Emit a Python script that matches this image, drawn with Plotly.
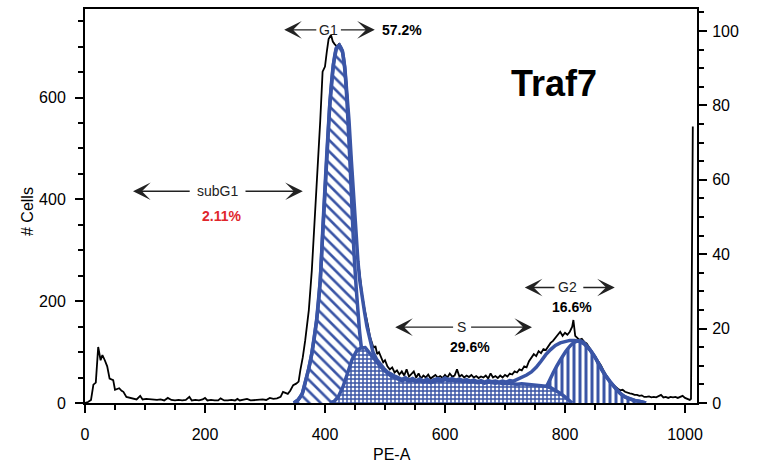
import plotly.graph_objects as go

# ---------------- data (PE-A channel, # cells) ----------------
black_pts = [(0,0),(5,2),(10,6),(14,36),(18,40),(22,110),(26,84),(29,94),(33,84),(37,72),(41,48),(47,45),(50,26),(54,28),(57,29),(61,24),(64,22),(69,12),(75,10),(80,8),
 (86,7),(92,14),(96,7),(102,8),(108,7),(114,6),(120,6),(126,7),(132,5),(138,10),(144,6),(150,5),(156,6),(162,5),(168,6),(174,12),(178,5),(184,6),(190,5),(196,7),(200,10),(204,5),(210,6),(216,5),(222,5),(226,9),(232,5),(238,5),(244,6),(250,5),(254,8),(258,5),(264,6),(270,8),(276,5),(282,6),(290,6),(296,7),(302,6),
 (308,10),(314,8),(320,9),(326,12),(330,22),(334,20),(338,18),(342,24),(347,35),(352,38),(356,42),(359,65),(363,90),(367,123),(373,182),(378,260),(383,358),(387,455),(392,553),(396,651),(400,661),(403,690),(406,715),(410,723),(413,710),(416,705),(420,700),(424,706),(428,694),(432,665),(436,625),(440,555),(444,475),(448,395),(452,325),(455,282),(458,246),(462,212),(466,184),(469,170),(472,150),(475,130),(478,118),(481,108),(484,112),(487,96),(490,100),(494,86),(497,80),(500,84),(504,72),(508,66),(512,70),(516,60),(520,64),(524,56),(528,62),(532,54),(536,66),(540,52),(544,58),(548,62),(552,50),(556,58),(560,48),(564,54),(568,50),(572,56),(576,48),(580,52),(584,55),(588,50),(592,53),(596,49),(600,55),(604,50),(608,58),(612,52),(616,54),(620,66),(624,52),(628,55),(632,50),(636,54),(640,51),(644,55),(648,50),(652,53),(656,49),(660,52),(664,50),(668,54),(672,48),(676,58),(680,50),(684,53),(688,49),(692,54),(696,50),(700,55),(704,52),(708,58),(712,56),(716,62),(720,60),(724,66),(728,64),(732,72),(736,70),(740,82),(744,88),(748,96),(752,92),(756,102),(760,98),(764,106),(768,104),(772,112),(776,118),(780,122),(784,128),(788,135),(792,140),(796,132),(800,138),(804,134),(808,140),(812,150),(814,163),(817,132),(820,128),(824,124),(828,126),(832,120),(836,117),(840,110),(844,104),(848,97),(852,90),(856,82),(860,74),(864,64),(868,56),(872,48),(876,40),(880,36),(884,31),(888,28),(892,25),(896,26),(900,22),(904,20),(908,19),(912,18),(916,16),(920,16),(924,14),(928,15),(932,12),(936,12),(940,13),(944,11),(948,12),(952,11),(956,13),(960,16),(964,11),(968,12),(972,10),(976,12),(980,11),(984,12),(988,10),(992,12),(996,14),(1000,10),(1004,8),(1008,6),(1010,8),(1013,543)]

g1_pts = [(348,0),(355,6),(362,18),(367,40),(373,68),(378,97),(386,162),(392,240),(397,358),(403,489),(408,587),(414,665),(419,697),(424,702),(429,690),(433,655),(436,605),(440,512),(444,410),(448,302),(452,226),(455,180),(458,136),(462,97),(466,68),(470,45),(475,25),(480,13),(488,5),(498,0)]

s_pts = [(408,0),(415,3),(422,12),(430,32),(438,60),(445,85),(453,103),(460,108),(467,109),(474,99),(480,88),(486,80),(492,72),(498,65),(504,58),(510,53),(516,50),(522,47),(528,44),(534,46),(540,43),(546,45),(552,42),(558,44),(564,41),(570,43),(576,40),(582,42),(588,44),(594,43),(600,46),(606,44),(612,45),(618,43),(624,44),(630,42),(636,43),(642,41),(648,42),(654,40),(660,41),(666,39),(672,41),(678,40),(684,39),(690,40),(696,38),(702,39),(708,38),(714,38),(720,37),(728,38),(736,37),(744,37),(752,36),(760,35),(768,33),(776,30),(784,25),(792,19),(800,12),(806,5),(812,0)]

g2_pts = [(742,0),(750,4),(758,12),(769,32),(781,61),(792,84),(803,104),(814,118),(822,122),(830,120),(842,104),(850,90),(858,72),(866,56),(875,42),(884,29),(892,19),(900,12),(908,8),(916,5),(925,3),(935,0)]

fit_pts = [(348,0),(355,6),(362,18),(367,40),(373,68),(378,97),(386,162),(392,240),(397,358),(403,489),(408,587),(414,665),(419,697),(424,703),(429,692),(433,660),(436,622),(440,555),(444,475),(448,395),(452,322),(455,277),(458,240),(462,205),(466,178),(470,150),(475,122),(480,100),(486,86),(492,76),(498,68),(504,61),(510,56),(516,53),(522,50),(528,46),(534,50),(540,45),(546,48),(552,44),(558,47),(564,43),(570,47),(576,42),(582,46),(588,48),(594,45),(600,49),(606,46),(612,48),(618,45),(624,47),(630,44),(636,46),(642,43),(648,45),(654,42),(660,44),(666,41),(672,44),(678,42),(684,43),(690,41),(696,43),(702,41),(708,44),(714,43),(720,46),(728,50),(736,55),(744,61),(752,70),(760,82),(768,95),(776,105),(784,113),(792,118),(800,121),(808,123),(816,123),(824,121),(832,116),(842,104),(850,90),(858,73),(866,57),(875,42),(884,29),(892,19),(900,12),(908,8),(916,5),(925,3),(935,0)]

gate_names = ["subG1", "G1", "S", "G2"]
gate_pcts = ["2.11%", "57.2%", "29.6%", "16.6%"]
sample_name = "Traf7"
x_ticks = [0, 200, 400, 600, 800, 1000]
y_ticks = [0, 200, 400, 600]
y2_ticks = [0, 20, 40, 60, 80, 100]

BLUE = "#3a55a6"
FONT = "Arial, Liberation Sans, sans-serif"

def xy(pts):
    return [p[0] for p in pts], [p[1] for p in pts]

fig = go.Figure()

bx, by = xy(black_pts)
fig.add_trace(go.Scatter(x=bx, y=by, mode="lines", line=dict(color="black", width=1.8), hoverinfo="skip"))

gx, gy = xy(g1_pts)
fig.add_trace(go.Scatter(x=gx, y=gy, mode="lines", fill="tozeroy", fillcolor="white",
                         fillpattern=dict(shape="\\", fgcolor=BLUE, bgcolor="white", fgopacity=1,
                                          size=8, solidity=0.33),
                         line=dict(color=BLUE, width=3.5, shape="spline", smoothing=0.6), hoverinfo="skip"))

g2x, g2y = xy(g2_pts)
fig.add_trace(go.Scatter(x=g2x, y=g2y, mode="lines", fill="tozeroy", fillcolor="white",
                         fillpattern=dict(shape="|", fgcolor=BLUE, bgcolor="white", fgopacity=1,
                                          size=6, solidity=0.5),
                         line=dict(color=BLUE, width=3.5, shape="spline", smoothing=0.6), hoverinfo="skip"))

sx, sy = xy(s_pts)
fig.add_trace(go.Scatter(x=sx, y=sy, mode="lines", fill="tozeroy", fillcolor="white",
                         fillpattern=dict(shape="+", fgcolor=BLUE, bgcolor="white", fgopacity=1,
                                          size=4, solidity=0.6),
                         line=dict(color=BLUE, width=3.5), hoverinfo="skip"))

fx, fy = xy(fit_pts)
fig.add_trace(go.Scatter(x=fx, y=fy, mode="lines", line=dict(color=BLUE, width=3.5), hoverinfo="skip"))

# dummy trace to realise the right axis
fig.add_trace(go.Scatter(x=[0], y=[0], yaxis="y2", mode="markers", marker=dict(opacity=0), hoverinfo="skip"))

# ---------------- gate annotations ----------------
gates = [
    dict(lx=221, ly=416, lt=80, rt=363, ltail=177, rtail=265, px=228, py=367, pcol="#e0262b"),
    dict(lx=405, ly=733, lt=332, rt=483, ltail=388, rtail=424, px=528, py=733, pcol="black"),
    dict(lx=627, ly=149, lt=517, rt=745, ltail=616, rtail=641, px=642, py=110, pcol="black"),
    dict(lx=804, ly=227, lt=733, rt=883, ltail=785, rtail=828, px=812, py=188, pcol="black"),
]
anns = []
for name, pct, g in zip(gate_names, gate_pcts, gates):
    anns.append(dict(x=g["lx"], y=g["ly"], xref="x", yref="y", text=name, showarrow=False,
                     font=dict(family=FONT, size=14, color="#222")))
    for tip, tail in ((g["lt"], g["ltail"]), (g["rt"], g["rtail"])):
        anns.append(dict(x=tip, y=g["ly"], ax=tail, ay=g["ly"], xref="x", yref="y", axref="x", ayref="y",
                         text="", showarrow=True, arrowhead=3, arrowsize=2.1, arrowwidth=1.4,
                         arrowcolor="#222", standoff=0, startstandoff=0))
    anns.append(dict(x=g["px"], y=g["py"], xref="x", yref="y", text="<b>" + pct + "</b>", showarrow=False,
                     font=dict(family=FONT, size=14, color=g["pcol"])))

anns.append(dict(x=0.767, y=0.81, xref="paper", yref="paper", xanchor="center", yanchor="middle",
                 text="<b>" + sample_name + "</b>",
                 showarrow=False, font=dict(family=FONT, size=36, color="black")))
anns.append(dict(x=-0.093, y=0.485, xref="paper", yref="paper", xanchor="center", yanchor="middle",
                 text="# Cells", textangle=-90,
                 showarrow=False, font=dict(family=FONT, size=16, color="black")))
anns.append(dict(x=0.502, y=-0.131, xref="paper", yref="paper", xanchor="center", yanchor="middle",
                 text="PE-A",
                 showarrow=False, font=dict(family=FONT, size=16, color="black")))

axis_common = dict(showgrid=False, zeroline=False, showline=True, linecolor="black", linewidth=2,
                   ticks="outside", ticklen=8, tickwidth=1.5, tickcolor="black",
                   tickfont=dict(family=FONT, size=16, color="black"))

fig.update_layout(
    width=765, height=467,
    margin=dict(l=85, r=68, t=7, b=64),
    paper_bgcolor="white", plot_bgcolor="white",
    showlegend=False,
    annotations=anns,
    xaxis=dict(range=[0, 1020], tickvals=x_ticks, mirror=True, ticklabelstandoff=8,
               minor=dict(dtick=50, ticklen=5, tickwidth=1.5, tickcolor="black", ticks="outside"),
               **axis_common),
    yaxis=dict(range=[0, 774], tickvals=y_ticks, ticklabelstandoff=6,
               minor=dict(dtick=50, ticklen=5, tickwidth=1.5, tickcolor="black", ticks="outside"),
               **axis_common),
    yaxis2=dict(range=[0, 105.9], tickvals=y2_ticks, overlaying="y", side="right", ticklabelstandoff=2,
                minor=dict(dtick=5, ticklen=5, tickwidth=1.5, tickcolor="black", ticks="outside"),
                **axis_common),
)

fig.write_html("out.html", config={"displayModeBar": False},
               post_script="document.body.style.margin='0';document.body.style.overflow='hidden';")
